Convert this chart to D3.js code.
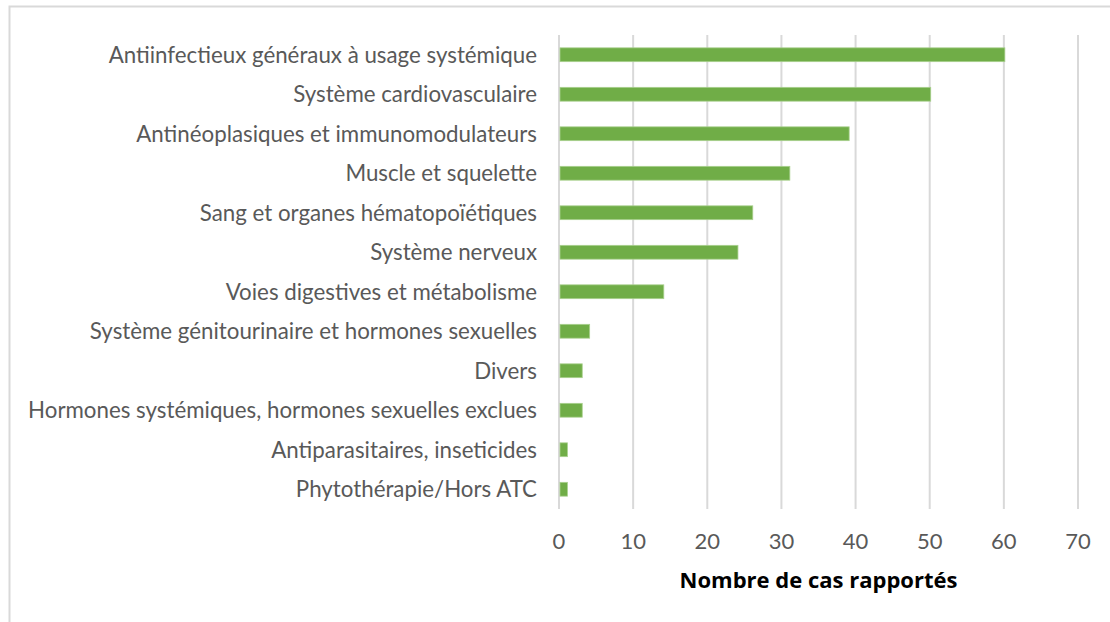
<!DOCTYPE html>
<html>
<head>
	<meta charset="utf-8" />
	<title>Nombre de cas rapportés</title>
	<script src="https://d3js.org/d3.v7.min.js"></script>
	<style type="text/css">
		body { margin: 0; background: #fff; }
		text { font-family: Lato, "Open Sans", sans-serif; }
		.title { font-family: "Open Sans", sans-serif; }
	</style>
</head>
<body>
	<script>
		const categories = [
			"Antiinfectieux généraux à usage systémique",
			"Système cardiovasculaire",
			"Antinéoplasiques et immunomodulateurs",
			"Muscle et squelette",
			"Sang et organes hématopoïétiques",
			"Système nerveux",
			"Voies digestives et métabolisme",
			"Système génitourinaire et hormones sexuelles",
			"Divers",
			"Hormones systémiques, hormones sexuelles exclues",
			"Antiparasitaires, inseticides",
			"Phytothérapie/Hors ATC"
		];
		const values = [60, 50, 39, 31, 26, 24, 14, 4, 3, 3, 1, 1];
		const ticks = [0, 10, 20, 30, 40, 50, 60, 70];
		const axisTitle = "Nombre de cas rapportés";

		const width = 1110;
		const height = 622;
		const margin = {top: 35, right: 32, bottom: 113, left: 559};

		const svg = d3.select("body")
			.append("svg")
			.attr("width", width)
			.attr("height", height);

		// chart frame
		svg.append("rect")
			.attr("x", 9.5)
			.attr("y", 6.5)
			.attr("width", width + 20)
			.attr("height", height + 20)
			.attr("fill", "none")
			.attr("stroke", "#d9d9d9")
			.attr("stroke-width", 2);

		const x = d3.scaleLinear()
			.domain([0, 70])
			.range([margin.left, width - margin.right]);

		const y = d3.scaleBand()
			.domain(categories)
			.range([margin.top, height - margin.bottom])
			.paddingInner(0.65)
			.paddingOuter(0.325);

		// gridlines
		svg.append("g")
			.selectAll("line")
			.data(ticks)
			.enter()
			.append("line")
			.attr("x1", d => x(d))
			.attr("x2", d => x(d))
			.attr("y1", margin.top)
			.attr("y2", height - margin.bottom)
			.attr("stroke", "#d9d9d9")
			.attr("stroke-width", 2);

		// bars
		svg.append("g")
			.selectAll("rect")
			.data(values)
			.enter()
			.append("rect")
			.attr("x", x(0) + 1)
			.attr("y", (d, i) => y(categories[i]))
			.attr("width", d => x(d) - x(0))
			.attr("height", y.bandwidth())
			.attr("fill", "#70ad47")
			.attr("stroke", "#a9d08e")
			.attr("stroke-width", 0.8);

		// category labels
		svg.append("g")
			.selectAll("text")
			.data(categories)
			.enter()
			.append("text")
			.attr("x", margin.left - 22)
			.attr("y", d => y(d) + y.bandwidth() / 2)
			.attr("dy", "0.35em")
			.attr("text-anchor", "end")
			.attr("font-size", 22.3)
			.attr("fill", "#595959")
			.text(d => d);

		// tick labels
		svg.append("g")
			.selectAll("text")
			.data(ticks)
			.enter()
			.append("text")
			.attr("x", d => x(d))
			.attr("y", 541)
			.attr("dy", "0.35em")
			.attr("text-anchor", "middle")
			.attr("font-size", 22)
			.attr("fill", "#595959")
			.text(d => d);

		svg.append("text")
			.attr("class", "title")
			.attr("x", (x(0) + x(70)) / 2)
			.attr("y", 580)
			.attr("dy", "0.35em")
			.attr("text-anchor", "middle")
			.attr("font-size", 22)
			.attr("font-weight", "bold")
			.attr("fill", "#000")
			.text(axisTitle);
	</script>
</body>
</html>
